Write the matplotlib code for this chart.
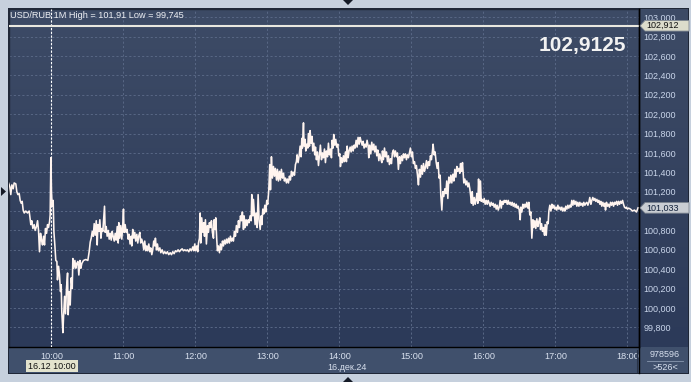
import numpy as np
import matplotlib
matplotlib.use("Agg")
import matplotlib.pyplot as plt
from matplotlib.patches import Rectangle, Polygon
from matplotlib.lines import Line2D
from matplotlib.colors import LinearSegmentedColormap
from matplotlib.transforms import blended_transform_factory

plt.rcParams['font.family'] = ['Liberation Sans', 'DejaVu Sans']

# ---------------- data (minutes after 10:00, price) ----------------
morning_min = [-35.8, -34.7, -33.9, -33.0, -31.9, -31.1, -29.7, -28.9, -28.0, -26.9,
               -26.1, -25.2, -24.4, -23.6, -22.7, -21.4, -20.0, -18.6, -18.0, -17.2,
               -16.4, -15.5, -14.4, -13.6, -12.5, -11.6, -10.8, -10.0, -9.1, -8.3,
               -7.5, -6.6, -5.8, -5.0, -4.1, -3.3, -2.5, -1.6, -1.1, -0.5,
               0.0, 0.6, 1.4, 2.0, 2.8, 3.6, 4.5, 5.0, 5.9, 6.7,
               7.5, 8.1, 8.6, 9.5, 10.0, 10.9, 11.7, 12.5, 13.4, 13.9,
               14.8, 15.6, 16.4, 17.3, 17.8, 18.6, 19.5, 20.3, 21.1, 22.0,
               22.8, 23.7, 24.5, 25.3, 26.7, 28.6, 30.3, 31.4, 32.3, 33.1,
               34.0, 34.8, 35.6, 36.4, 37.3, 38.1, 38.7, 39.5, 40.3, 41.2,
               42.0, 42.8, 44.2, 44.8, 45.6, 46.4, 47.3, 48.1, 48.9, 49.8,
               50.6, 51.4, 52.3, 53.1, 53.9, 54.8, 55.6]
morning_px = [101.29, 101.25, 101.17, 101.27, 101.23, 101.29, 101.28, 101.20, 101.17, 101.18,
              101.11, 101.08, 101.10, 101.01, 100.98, 101.00, 100.98, 101.00, 100.94, 100.86,
              100.90, 100.82, 100.86, 100.80, 100.84, 100.90, 100.80, 100.58, 100.77, 100.70,
              100.65, 100.74, 100.65, 100.82, 100.77, 100.86, 100.83, 100.89, 100.96, 101.55,
              101.20, 101.05, 101.11, 100.79, 100.65, 100.49, 100.48, 100.29, 100.43, 100.34,
              100.17, 100.24, 99.96, 99.745, 99.89, 100.12, 99.94, 100.20, 100.36, 99.93,
              100.17, 100.03, 100.31, 100.20, 100.51, 100.41, 100.49, 100.41, 100.46, 100.48,
              100.34, 100.49, 100.41, 100.46, 100.49, 100.50, 100.49, 100.58, 100.68, 100.72,
              100.79, 100.74, 100.87, 100.75, 100.90, 100.65, 100.86, 100.79, 100.91, 100.72,
              100.82, 100.79, 101.05, 100.78, 100.84, 100.74, 100.80, 100.71, 100.77, 100.70,
              100.79, 100.74, 100.69, 100.77, 100.70, 100.84, 100.67]

midday_min = [56.1, 56.9, 57.7, 58.6, 59.4, 60.0, 60.5, 61.4, 62.2, 63.0,
              63.9, 64.7, 65.5, 66.4, 66.9, 67.7, 68.6, 69.4, 70.2, 71.1,
              71.9, 72.7, 73.6, 74.4, 75.2, 76.1, 76.9, 77.7, 78.6, 79.4,
              80.2, 81.1, 81.9, 82.7, 83.6, 84.4, 85.2, 86.1, 86.6, 87.5,
              88.3, 89.1, 90.3, 91.1, 92.2, 93.3, 94.4, 95.5, 96.6, 97.7,
              98.9, 100.0, 101.1, 102.2, 103.3, 104.4, 105.5, 106.6, 107.8, 108.9,
              110.0, 111.1, 112.2, 113.3, 114.4, 115.5, 116.6, 117.8, 118.6, 119.4,
              120.2, 121.1, 121.9, 122.5, 123.3, 123.9, 124.4, 125.2, 126.1, 126.9,
              127.5, 128.3, 129.1, 130.0, 130.8, 131.6, 132.5, 133.3, 134.1, 135.0,
              135.5, 136.4, 136.9, 137.7, 138.3, 139.1, 140.0, 140.8, 141.6, 142.5,
              143.3, 144.1, 145.0, 145.8, 146.6, 147.5, 148.3, 149.1, 150.0, 150.8,
              151.6, 152.5, 153.3, 154.1, 155.0, 155.8, 156.6, 157.5, 158.3, 159.1,
              160.0, 160.5, 161.4, 162.2, 163.0, 163.9, 164.7, 165.5, 166.4, 166.9,
              167.8, 168.3, 169.1, 169.7, 170.5, 171.4, 172.2, 173.0, 173.9, 174.7,
              175.3, 176.1, 176.9, 177.8, 178.6, 179.4, 180.2, 181.1]
midday_px = [100.88, 100.72, 100.85, 100.71, 100.86, 101.02, 100.78, 100.86, 100.78, 100.81,
             100.71, 100.76, 100.66, 100.74, 100.64, 100.81, 100.72, 100.78, 100.69, 100.76,
             100.67, 100.74, 100.78, 100.67, 100.71, 100.67, 100.60, 100.69, 100.59, 100.64,
             100.59, 100.66, 100.58, 100.62, 100.55, 100.60, 100.69, 100.64, 100.72, 100.60,
             100.66, 100.59, 100.62, 100.57, 100.60, 100.56, 100.58, 100.56, 100.58, 100.55,
             100.57, 100.55, 100.58, 100.56, 100.59, 100.58, 100.60, 100.58, 100.60, 100.61,
             100.59, 100.60, 100.59, 100.60, 100.58, 100.61, 100.59, 100.63, 100.59, 100.66,
             100.59, 100.64, 100.58, 100.67, 100.72, 100.98, 100.67, 100.93, 100.78, 100.88,
             100.74, 100.91, 100.66, 100.85, 100.78, 100.88, 100.83, 100.90, 100.78, 100.72,
             100.91, 100.81, 100.93, 100.71, 100.59, 100.64, 100.57, 100.66, 100.60, 100.69,
             100.64, 100.70, 100.66, 100.71, 100.67, 100.72, 100.67, 100.74, 100.69, 100.72,
             100.69, 100.79, 100.74, 100.85, 100.78, 100.90, 100.83, 100.95, 100.90, 100.99,
             100.81, 100.95, 100.83, 100.91, 100.85, 100.91, 100.88, 100.95, 100.90, 101.17,
             100.95, 101.12, 100.98, 100.86, 100.98, 100.83, 101.17, 100.91, 100.81, 100.95,
             100.86, 101.02, 100.97, 101.06, 100.99, 101.11, 101.07, 101.22]

afternoon_min = [181.9, 182.5, 183.3, 184.1, 185.0, 185.8, 186.6, 187.5, 188.3, 189.1,
                 190.0, 190.8, 191.6, 192.5, 193.3, 194.1, 195.0, 195.8, 196.6, 197.5,
                 198.3, 199.1, 200.0, 200.8, 201.6, 202.5, 203.3, 204.1, 204.7, 205.5,
                 206.4, 207.2, 208.0, 208.6, 209.1, 210.0, 210.5, 211.4, 211.9, 212.7,
                 213.6, 214.1, 215.0, 215.5, 216.4, 217.2, 217.7, 218.6, 219.4, 220.0,
                 220.8, 221.6, 222.5, 223.3, 224.1, 225.0, 225.8, 226.6, 227.5, 228.3,
                 229.1, 230.0, 230.8, 231.6, 232.5, 233.3, 233.9, 234.7, 235.2, 236.1,
                 236.9, 237.7, 238.6, 239.4, 240.3, 240.8, 241.6, 242.5, 243.3, 244.1,
                 245.0, 245.8, 246.4, 247.2, 248.0, 248.9, 249.7, 250.5, 251.4, 252.2,
                 253.0, 253.9, 254.7, 255.5, 256.4, 257.2, 258.0, 258.9, 259.7, 260.5,
                 261.4, 262.2, 263.0, 263.9, 264.4, 265.2, 266.1, 266.9, 267.8, 268.6,
                 269.4, 270.3, 271.1, 271.9, 272.8, 273.6, 274.4, 275.3, 275.8, 276.6,
                 277.5, 278.3, 279.1, 280.0, 280.8, 281.6, 282.5, 283.3, 284.1, 285.0,
                 285.8, 286.6, 287.5, 288.3, 289.1, 290.0, 290.8, 291.6, 292.5, 293.3,
                 294.1, 295.0, 295.8, 296.6, 297.5, 298.3, 299.1, 300.0, 300.8, 301.6,
                 302.5, 303.3, 304.1, 305.0, 305.8, 306.6, 307.5, 308.3, 309.1, 310.0,
                 310.8, 311.6, 312.5, 313.3, 314.1, 315.0, 315.8, 316.6, 317.5, 318.0,
                 318.9, 319.7, 320.5, 321.4, 322.2, 323.0, 323.9, 324.4, 325.3, 326.1,
                 326.9, 327.8, 328.6, 329.4, 330.3, 331.1]
afternoon_px = [101.48, 101.22, 101.56, 101.34, 101.46, 101.36, 101.44, 101.32, 101.43, 101.31,
                101.41, 101.32, 101.43, 101.34, 101.39, 101.31, 101.34, 101.29, 101.33, 101.29,
                101.36, 101.32, 101.41, 101.36, 101.40, 101.37, 101.48, 101.51, 101.58, 101.50,
                101.57, 101.67, 101.56, 101.75, 101.65, 101.91, 101.67, 101.74, 101.62, 101.69,
                101.65, 101.80, 101.67, 101.83, 101.70, 101.77, 101.62, 101.70, 101.58, 101.66,
                101.53, 101.61, 101.47, 101.58, 101.68, 101.53, 101.60, 101.55, 101.64, 101.50,
                101.62, 101.56, 101.70, 101.58, 101.64, 101.55, 101.73, 101.65, 101.79, 101.68,
                101.74, 101.66, 101.69, 101.57, 101.59, 101.46, 101.55, 101.50, 101.57, 101.51,
                101.61, 101.51, 101.67, 101.55, 101.62, 101.66, 101.61, 101.67, 101.62, 101.68,
                101.65, 101.73, 101.66, 101.76, 101.69, 101.76, 101.72, 101.68, 101.72, 101.65,
                101.69, 101.66, 101.73, 101.67, 101.55, 101.68, 101.59, 101.71, 101.63, 101.69,
                101.61, 101.67, 101.57, 101.63, 101.52, 101.59, 101.54, 101.50, 101.62, 101.53,
                101.65, 101.56, 101.61, 101.51, 101.57, 101.48, 101.54, 101.49, 101.60, 101.63,
                101.56, 101.62, 101.56, 101.60, 101.43, 101.56, 101.49, 101.57, 101.52, 101.59,
                101.55, 101.59, 101.53, 101.58, 101.55, 101.60, 101.65, 101.56, 101.61, 101.49,
                101.51, 101.44, 101.47, 101.37, 101.27, 101.43, 101.35, 101.47, 101.38, 101.49,
                101.41, 101.45, 101.52, 101.44, 101.51, 101.47, 101.57, 101.53, 101.62, 101.69,
                101.58, 101.61, 101.51, 101.44, 101.50, 101.34, 101.37, 101.17, 101.01, 101.20,
                101.15, 101.23, 101.18, 101.31, 101.13, 101.35]

evening_min = [332.0, 332.8, 333.6, 334.5, 335.3, 336.1, 337.0, 337.8, 338.6, 339.5,
               340.3, 340.9, 341.7, 342.5, 343.1, 343.6, 344.5, 345.3, 346.1, 347.0,
               347.8, 348.6, 349.2, 350.0, 350.6, 351.4, 352.3, 353.1, 353.9, 354.5,
               355.3, 355.9, 356.7, 357.5, 358.1, 358.9, 359.8, 360.6, 361.4, 362.3,
               363.1, 363.9, 364.8, 365.6, 366.4, 367.3, 368.1, 368.9, 369.8, 370.6,
               371.4, 372.3, 373.1, 373.9, 374.8, 375.6, 376.4, 377.3, 378.1, 378.9,
               379.8, 380.6, 381.4, 382.3, 383.1, 383.9, 384.8, 385.6, 386.4, 387.3,
               388.1, 388.9, 389.8, 390.6, 391.1, 392.0, 392.8, 393.6, 394.5, 395.3,
               396.1, 397.0, 397.8, 398.6, 399.5, 400.3, 401.2, 402.0, 402.8, 403.6,
               404.5, 405.3, 406.1, 407.0, 407.5, 408.4, 409.2, 410.0, 410.9, 411.4,
               412.3, 413.1, 413.9, 414.5, 415.3, 416.2, 417.0, 417.8, 418.6, 419.5,
               420.3, 421.1, 422.0, 422.8, 423.6, 424.5, 425.3, 426.1, 427.0, 427.8,
               428.6, 429.5, 430.3, 431.1, 432.0, 432.8, 433.6, 434.5, 435.3, 436.1,
               437.0, 437.8, 438.6, 439.5, 440.3, 441.1, 442.0, 442.8, 443.6, 444.5,
               445.3, 446.1, 447.0, 447.8, 448.6, 449.5, 450.3, 451.1, 452.0, 452.8,
               453.6, 454.5, 455.3, 456.1, 457.0, 457.8, 458.6, 459.5, 460.3, 461.1,
               461.7, 462.5, 463.4, 464.2, 465.0, 465.9, 466.7, 467.5, 468.4, 469.2,
               470.0, 470.9, 471.7, 472.5, 473.4, 474.2, 475.0, 475.9, 476.7, 477.5,
               478.4, 479.2, 480.0, 480.9, 482.5, 484.2, 485.8, 487.5, 488.8]
evening_px = [101.29, 101.37, 101.29, 101.38, 101.31, 101.43, 101.35, 101.46, 101.41, 101.44,
              101.39, 101.49, 101.41, 101.50, 101.39, 101.29, 101.33, 101.27, 101.31, 101.25,
              101.29, 101.23, 101.17, 101.08, 101.20, 101.06, 101.14, 101.07, 101.12, 101.18,
              101.08, 101.33, 101.11, 101.31, 101.10, 101.12, 101.09, 101.13, 101.07, 101.11,
              101.07, 101.11, 101.08, 101.05, 101.09, 101.06, 101.08, 101.04, 101.07, 101.02,
              101.06, 101.01, 101.04, 101.11, 101.03, 101.10, 101.07, 101.11, 101.09, 101.11,
              101.07, 101.11, 101.07, 101.09, 101.06, 101.09, 101.05, 101.08, 101.04, 101.07,
              101.03, 101.05, 101.01, 100.91, 101.04, 100.99, 101.07, 101.03, 101.07, 101.04,
              101.09, 101.03, 101.09, 100.96, 100.99, 100.72, 100.91, 100.83, 100.90, 100.82,
              100.92, 100.84, 100.89, 100.93, 100.81, 100.87, 100.79, 100.83, 100.75, 100.86,
              100.75, 100.89, 100.87, 101.00, 101.06, 101.00, 101.07, 101.03, 101.06, 101.02,
              101.04, 101.01, 101.06, 101.02, 101.04, 101.01, 101.04, 101.00, 101.03, 101.00,
              101.05, 101.02, 101.06, 101.03, 101.06, 101.04, 101.11, 101.06, 101.11, 101.07,
              101.10, 101.05, 101.09, 101.05, 101.09, 101.06, 101.08, 101.05, 101.09, 101.06,
              101.08, 101.09, 101.06, 101.09, 101.14, 101.07, 101.11, 101.14, 101.11, 101.13,
              101.10, 101.12, 101.09, 101.11, 101.07, 101.10, 101.05, 101.09, 101.05, 101.08,
              101.01, 101.09, 101.05, 101.07, 101.04, 101.09, 101.06, 101.09, 101.05, 101.09,
              101.07, 101.10, 101.06, 101.10, 101.07, 101.10, 101.08, 101.11, 101.07, 101.04,
              101.03, 101.04, 101.02, 101.03, 101.02, 101.00, 101.01, 100.99, 101.033]

hour_ticks = [0, 60, 120, 180, 240, 300, 360, 420, 480]
hour_labels = ["10:00", "11:00", "12:00", "13:00", "14:00", "15:00", "16:00", "17:00", "18:00"]
price_ticks = [99.8, 100.0, 100.2, 100.4, 100.6, 100.8, 101.0, 101.2, 101.4,
               101.6, 101.8, 102.0, 102.2, 102.4, 102.6, 102.8, 103.0]
title_text = "USD/RUB 1M High = 101,91 Low = 99,745"
marker_price = 102.912
marker_label = "102,912"
marker_big = "102,9125"
cursor_minute = 0
cursor_label = "16.12 10:00"
date_label = "16.дек.24"
volume_label = "978596"
count_label = ">526<"

segs = [(morning_min, morning_px), (midday_min, midday_px),
        (afternoon_min, afternoon_px), (evening_min, evening_px)]
for a, b in segs:
    assert len(a) == len(b), (len(a), len(b))
minutes = np.concatenate([np.array(a, float) for a, _ in segs])
prices = np.concatenate([np.array(b, float) for _, b in segs])
last_price = prices[-1]
last_label = f"{last_price:.3f}".replace('.', ',')

# ---------------- figure ----------------
W, H = 691, 382
fig = plt.figure(figsize=(W / 100, H / 100), dpi=100)
fig.patch.set_facecolor('#c6d0dd')


def rect(px0, py0, px1, py1):
    return [px0 / W, 1 - py1 / H, (px1 - px0) / W, (py1 - py0) / H]


def fpt(px, py):
    return (px / W, 1 - py / H)


PL, PT, PR, PB = 9, 9, 639, 347
RP = 688
BB = 373

# dark frame border
r = rect(8, 8, RP + 1, BB + 1)
fig.add_artist(Rectangle((r[0], r[1]), r[2], r[3], transform=fig.transFigure,
                         facecolor='#1f2737', edgecolor='none', zorder=-5))

# gradient background for plot + right panel
bg = fig.add_axes(rect(PL, PT, RP, PB), zorder=-2)
bg.axis('off')
cmap = LinearSegmentedColormap.from_list('g', ['#3d4b66', '#2c3a59'])
bg.imshow(np.linspace(0, 1, 256).reshape(-1, 1), aspect='auto', cmap=cmap,
          extent=[0, 1, 0, 1])

# bottom panel
r = rect(PL, PB, RP, BB)
fig.add_artist(Rectangle((r[0], r[1]), r[2], r[3], transform=fig.transFigure,
                         facecolor='#40506c', edgecolor='none', zorder=-1))

ax = fig.add_axes(rect(PL, PT, PR, PB))
ax.set_facecolor('none')
ax.set_xlim(-35.4, 489.6)
ax.set_ylim(99.597, 103.085)
for s in ['left', 'top']:
    ax.spines[s].set_color('#1f2737')
for s in ['right', 'bottom']:
    ax.spines[s].set_color('black')
for s in ax.spines.values():
    s.set_linewidth(1.0)

ax.set_xticks(hour_ticks)
ax.set_xticklabels(hour_labels)
ax.yaxis.tick_right()
ax.set_yticks(price_ticks)
# the label under the last-price tag is hidden in the reference
ax.set_yticklabels(["" if abs(v - last_price) < 0.1 else f"{v:.3f}".replace('.', ',')
                    for v in price_ticks])
ax.tick_params(axis='x', length=0, pad=3.5, labelsize=6.6, labelcolor='#d8e0ee')
ax.tick_params(axis='y', length=0, pad=3, labelsize=6.5, labelcolor='#c9d5ea')
ax.grid(True, color='#586785', lw=0.7, linestyle=(0, (2.2, 2.2)))
ax.set_axisbelow(True)

ax.axvline(cursor_minute, color='white', lw=0.8, ls=(0, (2, 1.4)), zorder=3)
ax.plot(minutes, prices, color='#fff4ef', lw=1.15, zorder=5)
ax.axhline(marker_price, color='#e9e8e0', lw=1.5, zorder=6)

fig.text(*fpt(10, 15), title_text, fontsize=6.6, color='#eef0f4', va='center')
fig.text(*fpt(626, 46), marker_big, fontsize=15, fontweight='bold',
         color='#f2f2f2', ha='right', va='center')

trans = blended_transform_factory(fig.transFigure, ax.transData)
hh = 5.3 / 96.9


def tag(value, text, face, tcol):
    x0, x1, x2 = 640 / W, 645 / W, 689 / W
    poly = Polygon([(x0, value), (x1, value + hh), (x2, value + hh),
                    (x2, value - hh), (x1, value - hh)], closed=True,
                   transform=trans, facecolor=face, edgecolor='#7d8590',
                   lw=0.6, zorder=10)
    fig.add_artist(poly)
    fig.text(646 / W, value, text, transform=trans, fontsize=6.5, color=tcol,
             va='center', ha='left', zorder=11)


tag(marker_price, marker_label, '#dcdccb', '#111111')
tag(last_price, last_label, '#c9cdd3', '#10203a')

# bottom-panel texts
r = rect(26, 360, 78, 372)
fig.add_artist(Rectangle((r[0], r[1]), r[2], r[3], transform=fig.transFigure,
                         facecolor='#e3e3cd', edgecolor='none', zorder=8))
fig.text(*fpt(52, 366.3), cursor_label, fontsize=6.5, color='#111111',
         ha='center', va='center', zorder=9)
fig.text(*fpt(347, 367), date_label, fontsize=6.5, color='#d8e0ee',
         ha='center', va='center')
fig.text(*fpt(665, 354.5), volume_label, fontsize=6.5, color='#d8e0ee',
         ha='center', va='center')
fig.text(*fpt(665, 367.5), count_label, fontsize=6.5, color='#d8e0ee',
         ha='center', va='center')
fig.add_artist(Line2D([647 / W, 683 / W], [1 - 361 / H] * 2, color='#8a98b0',
                      lw=0.6, transform=fig.transFigure))
fig.add_artist(Line2D([639 / W] * 2, [1 - 9 / H, 1 - 373 / H], color='black',
                      lw=1.0, transform=fig.transFigure, zorder=7))
fig.add_artist(Line2D([637 / W] * 2, [1 - 350 / H, 1 - 372 / H], color='#2a3448',
                      lw=0.8, transform=fig.transFigure))

# navigation triangles
for pts in ([(343, 0), (353, 0), (348, 5)],
            [(343, 382), (353, 382), (348, 377)],
            [(1, 187), (1, 196), (6, 191.5)]):
    fig.add_artist(Polygon([fpt(x, y) for x, y in pts], closed=True,
                           transform=fig.transFigure, facecolor='#141a26',
                           edgecolor='none'))

fig.savefig('out.png', dpi=100, facecolor=fig.get_facecolor())
